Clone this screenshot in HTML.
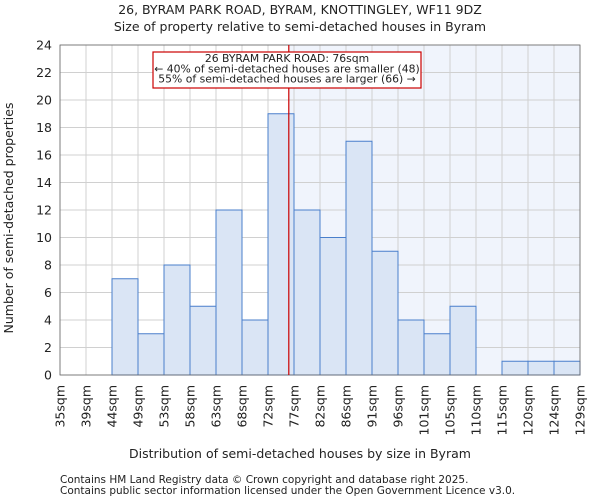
<!DOCTYPE html>
<html><head><meta charset="utf-8"><style>
body{margin:0;background:#fff;font-family:"DejaVu Sans","Liberation Sans",sans-serif;}
svg text{font-family:"DejaVu Sans","Liberation Sans",sans-serif;fill:#222;}
</style></head><body>
<svg id="chart" width="600" height="500" xmlns="http://www.w3.org/2000/svg">
<text x="300" y="14" text-anchor="middle" font-size="12.5">26, BYRAM PARK ROAD, BYRAM, KNOTTINGLEY, WF11 9DZ</text>
<text x="300" y="31" text-anchor="middle" font-size="12.5">Size of property relative to semi-detached houses in Byram</text>
<g id="plot"></g>
<text x="300" y="458" text-anchor="middle" font-size="12.5">Distribution of semi-detached houses by size in Byram</text>
<text transform="translate(13,218) rotate(-90)" text-anchor="middle" font-size="12.5">Number of semi-detached properties</text>
<text x="60" y="483" font-size="10.5" fill="#444">Contains HM Land Registry data © Crown copyright and database right 2025.</text>
<text x="60" y="494" font-size="10.5" fill="#444">Contains public sector information licensed under the Open Government Licence v3.0.</text>
</svg>
<script>
const binLabels=["35sqm","39sqm","44sqm","49sqm","53sqm","58sqm","63sqm","68sqm","72sqm","77sqm","82sqm","86sqm","91sqm","96sqm","101sqm","105sqm","110sqm","115sqm","120sqm","124sqm","129sqm"];
const binEdges=[35,39,44,49,53,58,63,68,72,77,82,86,91,96,101,105,110,115,120,124,129];
const counts=[0,0,7,3,8,5,12,4,19,12,10,17,9,4,3,5,0,1,1,1];
const yTicks=[0,2,4,6,8,10,12,14,16,18,20,22,24];
const propertySize=76;
const NS="http://www.w3.org/2000/svg";
const X0=60,X1=580,Y0=375,Y1=45,YMAX=24;
const bw=(X1-X0)/counts.length;
function xIdx(i){return X0+i*bw;}
function xVal(v){let i=0;while(i<binEdges.length-2&&v>binEdges[i+1])i++;return xIdx(i)+(v-binEdges[i])/(binEdges[i+1]-binEdges[i])*bw;}
function y(v){return Y0-(v/YMAX)*(Y0-Y1);}
const g=document.getElementById('plot');
function mk(t,a){const e=document.createElementNS(NS,t);for(const k in a)e.setAttribute(k,a[k]);g.appendChild(e);return e;}
const px=xVal(propertySize);
let e=mk('rect',{x:px,y:Y1,width:X1-px,height:Y0-Y1,fill:'#f0f4fc'});


yTicks.forEach(t=>{
 let l=mk('line',{x1:X0,x2:X1,y1:y(t),y2:y(t),stroke:'#d0d0d0','stroke-width':1});
 
 
 let tx=mk('text',{x:X0-8,y:y(t)+4.5,'text-anchor':'end','font-size':12.5});
 tx.textContent=t;
 
 
});
binLabels.forEach((lab,i)=>{
 let l=mk('line',{x1:xIdx(i),x2:xIdx(i),y1:Y1,y2:Y0,stroke:'#d0d0d0','stroke-width':1});
 
 
 let tx=mk('text',{transform:`translate(${xIdx(i)+4.5},${Y0+10}) rotate(-90)`,'text-anchor':'end','font-size':12.5});
 tx.textContent=lab;
 
 
});
counts.forEach((c,i)=>{
 if(c<=0)return;
 let r=mk('rect',{x:xIdx(i),y:y(c),width:bw,height:Y0-y(c),fill:'#dae5f5',stroke:'#4a7fcb','stroke-width':1});
 
 
});
let ax=mk('rect',{x:X0,y:Y1,width:X1-X0,height:Y0-Y1,fill:'none',stroke:'#666','stroke-width':0.8});


let ml=mk('line',{x1:px,x2:px,y1:Y1,y2:Y0,stroke:'#cc0000','stroke-width':1.2});


let box=mk('rect',{x:153,y:52,width:268,height:36,fill:'#fff',stroke:'#cc0000','stroke-width':1.2});


["26 BYRAM PARK ROAD: 76sqm","← 40% of semi-detached houses are smaller (48)","55% of semi-detached houses are larger (66) →"].forEach((s,i)=>{
 let t=mk('text',{x:287,y:62+i*10.3,'text-anchor':'middle','font-size':10.8});
 t.textContent=s;
 
 
});
</script>
</body></html>
